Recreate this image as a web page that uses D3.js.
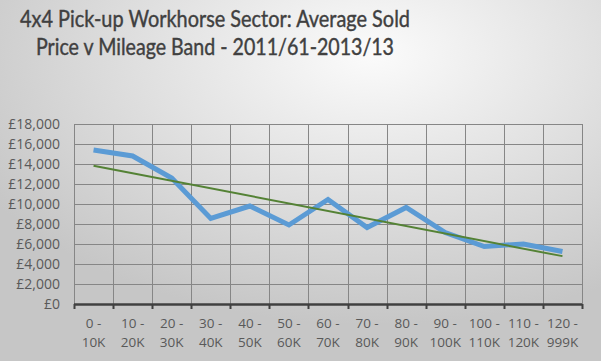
<!DOCTYPE html>
<html>
<head>
<meta charset="utf-8">
<script src="https://cdn.jsdelivr.net/npm/d3@7"></script>
<style>
  body { margin: 0; }
  svg { display: block; }
</style>
</head>
<body>
<div id="chart"></div>
<script>
// data
var bandTop = ["0 -", "10 -", "20 -", "30 -", "40 -", "50 -", "60 -", "70 -", "80 -", "90 -", "100 -", "110 -", "120 -"];
var bandBottom = ["10K", "20K", "30K", "40K", "50K", "60K", "70K", "80K", "90K", "100K", "110K", "120K", "999K"];
var avgPrice = [15400, 14800, 12600, 8550, 9800, 7900, 10450, 7650, 9650, 7150, 5750, 6000, 5250];
var yTicks = [0, 2000, 4000, 6000, 8000, 10000, 12000, 14000, 16000, 18000];
var titleLines = ["4x4 Pick-up Workhorse Sector: Average Sold", "Price v Mileage Band - 2011/61-2013/13"];

var svgWidth = 601, svgHeight = 361;
var margin = { top: 124, right: 19, bottom: 57, left: 74 };
var width = svgWidth - margin.left - margin.right;
var height = svgHeight - margin.top - margin.bottom;

var svg = d3.select("#chart")
    .append("svg")
    .attr("width", svgWidth)
    .attr("height", svgHeight);

// background gradient
var defs = svg.append("defs");
var grad = defs.append("radialGradient")
    .attr("id", "bg")
    .attr("cx", "62%").attr("cy", "15%").attr("r", "75%");
grad.append("stop").attr("offset", "0%").attr("stop-color", "#fbfbfb");
grad.append("stop").attr("offset", "100%").attr("stop-color", "#c6c6c6");

svg.append("rect")
    .attr("width", svgWidth).attr("height", svgHeight)
    .attr("fill", "url(#bg)");

// title
svg.selectAll(".title")
    .data(titleLines)
    .enter()
    .append("text")
    .attr("class", "title")
    .attr("x", 215)
    .attr("y", (d, i) => 27 + i * 28)
    .attr("text-anchor", "middle")
    .attr("font-family", "Lato, sans-serif")
    .attr("font-size", 23)
    .attr("fill", "#404040")
    .attr("stroke", "#404040")
    .attr("stroke-width", 0.4)
    .attr("textLength", (d, i) => i == 0 ? 390 : 358)
    .attr("lengthAdjust", "spacingAndGlyphs")
    .text(d => d);

var chartGroup = svg.append("g")
    .attr("transform", `translate(${margin.left}, ${margin.top})`);

var xScale = d3.scaleBand()
    .domain(d3.range(bandTop.length))
    .range([0, width]);

var yScale = d3.scaleLinear()
    .domain([0, 18000])
    .range([height, 0]);

// horizontal grid
chartGroup.append("g")
    .selectAll("line")
    .data(yTicks)
    .enter()
    .append("line")
    .attr("x1", 0).attr("x2", width)
    .attr("y1", d => yScale(d) + 0.5).attr("y2", d => yScale(d) + 0.5)
    .attr("stroke", "#868686")
    .attr("stroke-width", 1);

// vertical grid at band edges
var edges = d3.range(bandTop.length + 1).map(i => i * xScale.step());
chartGroup.append("g")
    .selectAll("line")
    .data(edges)
    .enter()
    .append("line")
    .attr("x1", d => Math.round(d) + 0.5).attr("x2", d => Math.round(d) + 0.5)
    .attr("y1", 0).attr("y2", height)
    .attr("stroke", "#868686")
    .attr("stroke-width", 1);

// y axis labels
chartGroup.append("g")
    .selectAll("text")
    .data(yTicks)
    .enter()
    .append("text")
    .attr("x", -14)
    .attr("y", d => yScale(d) + 5)
    .attr("text-anchor", "end")
    .attr("font-family", "'Open Sans', sans-serif")
    .attr("font-size", 14)
    .attr("fill", "#595959")
    .text(d => "£" + d3.format(",")(d));

// x axis line with ticks
chartGroup.append("line")
    .attr("x1", 0).attr("x2", width)
    .attr("y1", height + 0.5).attr("y2", height + 0.5)
    .attr("stroke", "#404040")
    .attr("stroke-width", 2.5);

chartGroup.append("g")
    .selectAll("line")
    .data(edges)
    .enter()
    .append("line")
    .attr("x1", d => Math.round(d) + 0.5).attr("x2", d => Math.round(d) + 0.5)
    .attr("y1", height).attr("y2", height + 5)
    .attr("stroke", "#404040")
    .attr("stroke-width", 2);

// x labels, two lines
var xLabels = chartGroup.append("g")
    .selectAll("text")
    .data(bandTop)
    .enter()
    .append("text")
    .attr("text-anchor", "middle")
    .attr("font-family", "'Open Sans', sans-serif")
    .attr("font-size", 13.5)
    .attr("fill", "#595959");

xLabels.append("tspan")
    .attr("x", (d, i) => xScale(i) + xScale.bandwidth() / 2)
    .attr("y", height + 24)
    .text(d => d);

xLabels.append("tspan")
    .attr("x", (d, i) => xScale(i) + xScale.bandwidth() / 2)
    .attr("y", height + 43)
    .text((d, i) => bandBottom[i]);

// linear trend line (least squares on the series)
var n = avgPrice.length;
var xs = d3.range(n);
var mx = d3.mean(xs), my = d3.mean(avgPrice);
var slope = d3.sum(xs, i => (i - mx) * (avgPrice[i] - my)) / d3.sum(xs, i => (i - mx) * (i - mx));
var intercept = my - slope * mx;
var trend = [0, n - 1].map(i => [i, intercept + slope * i]);

var line = d3.line()
    .x(d => xScale(d[0]) + xScale.bandwidth() / 2)
    .y(d => yScale(d[1]));

chartGroup.append("path")
    .datum(avgPrice.map((v, i) => [i, v]))
    .attr("d", line)
    .attr("fill", "none")
    .attr("stroke", "#5b9bd5")
    .attr("stroke-width", 5)
    .attr("stroke-linejoin", "miter");

chartGroup.append("path")
    .datum(trend)
    .attr("d", line)
    .attr("fill", "none")
    .attr("stroke", "#548235")
    .attr("stroke-width", 2);
</script>
</body>
</html>
